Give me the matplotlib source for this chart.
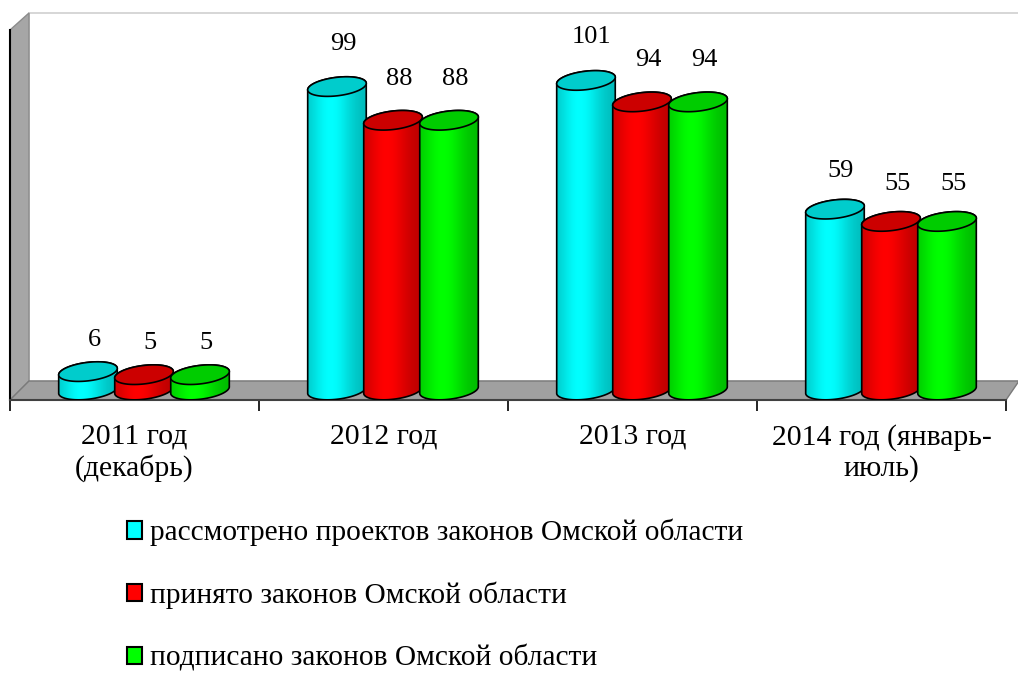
import numpy as np
import matplotlib.pyplot as plt
from matplotlib.patches import Polygon, Patch

plt.rcParams['font.family'] = ['Liberation Serif', 'DejaVu Serif']

# data
categories = ['2011 год\n(декабрь)', '2012 год', '2013 год', '2014 год (январь-\nиюль)']
considered = [6, 99, 101, 59]
adopted = [5, 88, 94, 55]
signed = [5, 88, 94, 55]
series_names = ['рассмотрено проектов законов Омской области',
                'принято законов Омской области',
                'подписано законов Омской области']
series = [considered, adopted, signed]
side_colors = ['#00FFFF', '#FF0000', '#00FF00']
top_colors = ['#00CCCC', '#CC0000', '#00CC00']

W, H = 1018, 675
fig = plt.figure(figsize=(W / 100, H / 100), dpi=100)

# plot area: front floor edge at y=400px, back wall top at y=13px
px_per_unit = 3.065
ax = fig.add_axes([10 / W, (H - 400) / H, 996 / W, 387 / H])
ax.set_xlim(-0.5, 3.5)
ax.set_ylim(-10 / px_per_unit, 377 / px_per_unit)
dx = 4 / 996            # data units per pixel, x
dy = 1 / px_per_unit    # data units per pixel, y
depth = 19              # px of the 3D depth offset

y_lo, y_hi = ax.get_ylim()
y_back = y_lo + depth * dy
x_back = -0.5 + depth * dx
x_right = 3.5 + 13 * dx

# walls and floor
ax.add_patch(Polygon([(x_back, y_back), (x_right, y_back), (x_right, y_hi), (x_back, y_hi)],
                     closed=True, facecolor='white', edgecolor='#D0D0D0', lw=1.2,
                     clip_on=False, zorder=0))
ax.add_patch(Polygon([(-0.5, y_lo), (-0.5, y_hi - 17 * dy), (x_back, y_hi), (x_back, y_back)],
                     closed=True, facecolor='#A6A6A6', edgecolor='#8C8C8C', lw=1,
                     clip_on=False, zorder=1))
ax.add_patch(Polygon([(-0.5, y_lo), (3.5, y_lo), (x_right, y_back), (x_back, y_back)],
                     closed=True, facecolor='#A0A0A0', edgecolor='#7A7A7A', lw=1,
                     clip_on=False, zorder=1))
ax.plot([-0.5, -0.5], [y_lo, y_hi - 17 * dy], color='black', lw=1.5, zorder=2, clip_on=False)
ax.plot([-0.5, 3.5], [y_lo, y_lo], color='#404040', lw=1.5, zorder=2, clip_on=False)

# cylinders
a_px, b_px, tilt = 29.5, 9.2, np.radians(7)
offset = 0.225
shift = 9.5 * dx


def ellipse_pts(cx, cy, t):
    ex = a_px * np.cos(t) * np.cos(tilt) - b_px * np.sin(t) * np.sin(tilt)
    ey = a_px * np.cos(t) * np.sin(tilt) + b_px * np.sin(t) * np.cos(tilt)
    return np.column_stack([cx + ex * dx, cy + ey * dy])


grad_x = np.linspace(0, 1, 200)
shade = 0.72 + 0.28 * np.exp(-((grad_x - 0.4) / 0.35) ** 2)

for j in range(len(categories)):
    for i, vals in enumerate(series):
        v = vals[j]
        cx = j + (i - 1) * offset + shift
        z = 3 + 4 * (j * 3 + i)
        bottom_front = ellipse_pts(cx, 0, np.linspace(np.pi, 2 * np.pi, 60))
        top_back = ellipse_pts(cx, v, np.linspace(0, np.pi, 60))
        body = Polygon(np.vstack([bottom_front, top_back]), closed=True,
                       facecolor='none', edgecolor='none')
        ax.add_patch(body)
        rgb = np.array(plt.matplotlib.colors.to_rgb(side_colors[i]))
        img = (shade[:, None] * rgb[None, :])[None, :, :]
        im = ax.imshow(img, extent=[cx - 31 * dx, cx + 31 * dx, -12 * dy, v + 12 * dy],
                       aspect='auto', zorder=z, interpolation='bilinear')
        im.set_clip_path(body)
        ax.add_patch(Polygon(np.vstack([bottom_front, top_back]), closed=True,
                             facecolor='none', edgecolor='black', lw=1.2, zorder=z + 1))
        top = ellipse_pts(cx, v, np.linspace(0, 2 * np.pi, 120))
        ax.add_patch(Polygon(top, closed=True, facecolor=top_colors[i],
                             edgecolor='black', lw=1.2, zorder=z + 2))
        ax.text(cx + 6 * dx, v + 10 + 0.04 * v, str(v), ha='center', va='center',
                fontsize=19, zorder=200)

# axis ticks
for s in ax.spines.values():
    s.set_visible(False)
ax.set_yticks([])
ax.set_xticks([-0.5, 0.5, 1.5, 2.5, 3.5])
ax.set_xticklabels([])
ax.tick_params(axis='x', which='major', length=8, width=1.2, color='black', direction='out')
ax.set_xticks(range(len(categories)), minor=True)
ax.set_xticklabels(categories, minor=True, fontsize=21.4, linespacing=1.2)
ax.tick_params(axis='x', which='minor', length=0, pad=17)

# legend
handles = [Patch(facecolor=c, edgecolor='black', lw=1.5) for c in side_colors]
fig.legend(handles, series_names, loc='upper left', bbox_to_anchor=(127 / W, 1 - 519 / H),
           frameon=False, fontsize=21.2, handlelength=0.52, handleheight=0.52,
           handletextpad=0.25, labelspacing=1.2, borderpad=0, borderaxespad=0)

fig.savefig('out.png', dpi=100)
